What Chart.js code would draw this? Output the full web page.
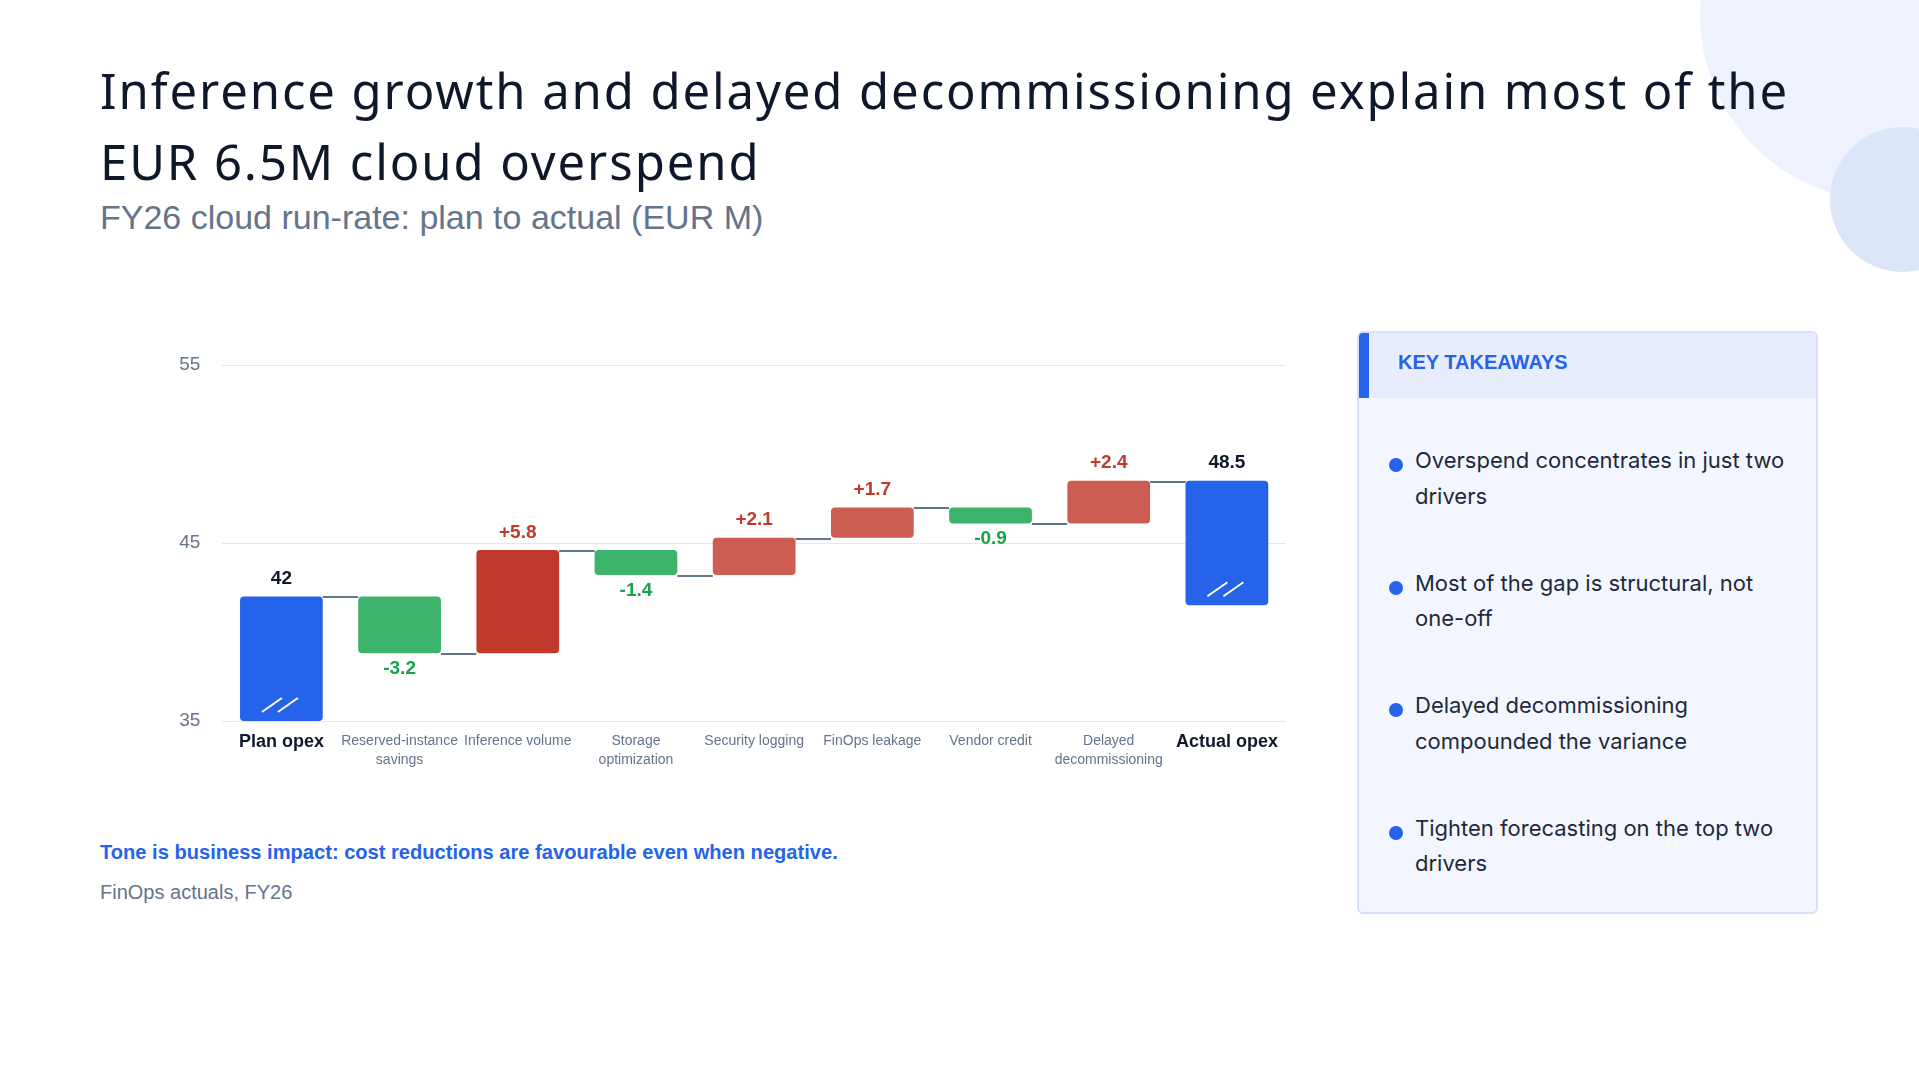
<!DOCTYPE html>
<html>
<head>
<meta charset="utf-8">
<script src="https://cdn.jsdelivr.net/npm/chart.js@4.4.1/dist/chart.umd.min.js"></script>
<style>
  html, body { margin: 0; padding: 0; }
  body {
    width: 1919px; height: 1080px; position: relative; overflow: hidden;
    background: #fff; font-family: "Liberation Sans", Arial, sans-serif;
  }
  .blob-big { position: absolute; left: 1700px; top: -171px; width: 372px; height: 372px; border-radius: 50%; background: #edf2fd; }
  .blob-small { position: absolute; left: 1830px; top: 127px; width: 145px; height: 145px; border-radius: 50%; background: #dce6f9; }
  .title {
    position: absolute; left: 100px; top: 55px; margin: 0;
    font-family: "Noto Sans", sans-serif; font-weight: 400; font-size: 49px; line-height: 70.7px;
    color: #0f172a; white-space: nowrap;
  }
  .title span { display: inline-block; }
  .subtitle { position: absolute; left: 100px; top: 198px; font-size: 34px; color: #64748b; white-space: nowrap; }
  .chart-box { position: absolute; left: 100px; top: 325px; width: 1186px; height: 456px; }
  .note { position: absolute; left: 100px; top: 841px; font-size: 20.1px; font-weight: bold; color: #2563eb; white-space: nowrap; }
  .source { position: absolute; left: 100px; top: 881px; font-size: 20px; color: #64748b; white-space: nowrap; }
  .panel {
    position: absolute; left: 1357px; top: 331px; width: 461px; height: 583px; box-sizing: border-box;
    border: 2px solid #d6e0f8; border-radius: 6px; background: #f3f6fe; overflow: hidden;
  }
  .panel-head {
    position: absolute; left: -2px; top: -2px; right: -2px; height: 67px; box-sizing: border-box;
    border-left: 12px solid #2563eb; background: #e7edfc; padding-left: 29px;
    font-size: 20px; font-weight: bold; line-height: 63px; color: #2563eb;
  }
  .takeaways { position: absolute; left: 56px; top: 110px; margin: 0; padding: 0; list-style: none; }
  .takeaways li {
    position: relative; height: 122.6px; white-space: nowrap;
    font-family: Inter, sans-serif; font-size: 22px; line-height: 35.5px; color: #1e293b;
  }
  .takeaways li::before {
    content: ""; position: absolute; left: -26px; top: 15px; width: 14px; height: 14px;
    border-radius: 50%; background: #2563eb;
  }
</style>
</head>
<body>
<div class="blob-big"></div>
<div class="blob-small"></div>

<h1 class="title"><span id="titleLine1">Inference growth and delayed decommissioning explain most of the</span><br><span>EUR 6.5M cloud overspend</span></h1>
<div class="subtitle">FY26 cloud run-rate: plan to actual (EUR M)</div>

<div class="chart-box"><canvas id="waterfall"></canvas></div>

<div class="note">Tone is business impact: cost reductions are favourable even when negative.</div>
<div class="source">FinOps actuals, FY26</div>

<div class="panel">
  <div class="panel-head">KEY TAKEAWAYS</div>
  <ul class="takeaways">
    <li>Overspend concentrates in just two<br>drivers</li>
    <li>Most of the gap is structural, not<br>one-off</li>
    <li>Delayed decommissioning<br>compounded the variance</li>
    <li>Tighten forecasting on the top two<br>drivers</li>
  </ul>
</div>

<script>
const categories = ['Plan opex', 'Reserved-instance savings', 'Inference volume', 'Storage optimization',
  'Security logging', 'FinOps leakage', 'Vendor credit', 'Delayed decommissioning', 'Actual opex'];
const tickLabels = [['Plan opex'], ['Reserved-instance', 'savings'], ['Inference volume'], ['Storage', 'optimization'],
  ['Security logging'], ['FinOps leakage'], ['Vendor credit'], ['Delayed', 'decommissioning'], ['Actual opex']];
const planOpex = 42;
const actualOpex = 48.5;
const deltas = [-3.2, 5.8, -1.4, 2.1, 1.7, -0.9, 2.4];
// the two totals are drawn as broken stubs; their bottoms
const stubBottoms = [35, 41.5];
const yTicks = [35, 45, 55];

const BLUE = '#2563eb';
const GREEN = '#3db36c';
const RED = '#cd5c52';
const RED_DARK = '#c0392b';
const INK = '#0f172a';
const SLATE = '#64748b';

// floating ranges for the waterfall + the level after each step
const ranges = [[stubBottoms[0], planOpex]];
const levels = [planOpex];
let run = planOpex;
deltas.forEach(d => {
  const next = Math.round((run + d) * 10) / 10;
  ranges.push([run, next]);
  levels.push(next);
  run = next;
});
ranges.push([stubBottoms[1], actualOpex]);
levels.push(actualOpex);

const lastIdx = categories.length - 1;
const isTotal = i => i === 0 || i === lastIdx;
const biggest = Math.max(...deltas);
const barColors = categories.map((c, i) => {
  if (isTotal(i)) return BLUE;
  const d = deltas[i - 1];
  if (d < 0) return GREEN;
  return d === biggest ? RED_DARK : RED;
});

function labelText(i) {
  if (i === 0) return String(planOpex);
  if (i === lastIdx) return String(actualOpex);
  const d = deltas[i - 1];
  return (d > 0 ? '+' : '') + d.toFixed(1);
}

const connectors = {
  id: 'connectors',
  beforeDatasetsDraw(chart) {
    const ctx = chart.ctx;
    const bars = chart.getDatasetMeta(0).data;
    const y = chart.scales.y;
    ctx.save();
    ctx.strokeStyle = SLATE;
    ctx.lineWidth = 2;
    for (let i = 0; i < bars.length - 1; i++) {
      const py = Math.round(y.getPixelForValue(levels[i])) + 1;
      ctx.beginPath();
      ctx.moveTo(bars[i].x + bars[i].width / 2, py);
      ctx.lineTo(bars[i + 1].x - bars[i + 1].width / 2, py);
      ctx.stroke();
    }
    ctx.restore();
  }
};

const barLabels = {
  id: 'barLabels',
  afterDatasetsDraw(chart) {
    const ctx = chart.ctx;
    const bars = chart.getDatasetMeta(0).data;
    ctx.save();
    ctx.font = 'bold 19px "Liberation Sans", Arial, sans-serif';
    ctx.textAlign = 'center';
    ctx.textBaseline = 'alphabetic';
    bars.forEach((bar, i) => {
      const top = Math.min(bar.y, bar.base);
      const bottom = Math.max(bar.y, bar.base);
      if (isTotal(i)) {
        ctx.fillStyle = INK;
        ctx.fillText(labelText(i), bar.x, top - 12.5);
        // broken-axis marks
        ctx.strokeStyle = '#ffffff';
        ctx.lineWidth = 2;
        [-19.5, -3.5].forEach(dx => {
          ctx.beginPath();
          ctx.moveTo(bar.x + dx, bottom - 9);
          ctx.lineTo(bar.x + dx + 20, bottom - 23);
          ctx.stroke();
        });
      } else if (deltas[i - 1] > 0) {
        ctx.fillStyle = RED_DARK;
        ctx.fillText(labelText(i), bar.x, top - 12.5);
      } else {
        ctx.fillStyle = '#16a34a';
        ctx.fillText(labelText(i), bar.x, bottom + 21);
      }
    });
    ctx.restore();
  }
};

Chart.defaults.font.family = '"Liberation Sans", Arial, sans-serif';

new Chart(document.getElementById('waterfall'), {
  type: 'bar',
  data: {
    labels: tickLabels,
    datasets: [{
      data: ranges,
      backgroundColor: barColors,
      borderRadius: 4,
      borderSkipped: false,
      categoryPercentage: 1,
      barPercentage: 0.7
    }]
  },
  options: {
    responsive: true,
    maintainAspectRatio: false,
    animation: false,
    layout: { padding: { top: 40, right: 0, bottom: 0, left: 0 } },
    plugins: { legend: { display: false }, tooltip: { enabled: false } },
    scales: {
      x: {
        grid: { display: false },
        border: { display: false },
        afterFit: axis => { axis.height = 60; },
        ticks: {
          autoSkip: false,
          maxRotation: 0,
          padding: 2,
          color: ctx => isTotal(ctx.index) ? INK : SLATE,
          font: ctx => isTotal(ctx.index)
            ? { size: 18, weight: 'bold', lineHeight: 1.2 }
            : { size: 14, lineHeight: 1.4 }
        }
      },
      y: {
        min: 35,
        max: 55,
        afterBuildTicks: axis => { axis.ticks = yTicks.map(v => ({ value: v })); },
        afterFit: axis => { axis.width = 122.3; },
        grid: { color: '#e2e8f0', drawTicks: false },
        border: { display: false },
        ticks: { color: SLATE, padding: 22, font: { size: 19 } }
      }
    }
  },
  plugins: [connectors, barLabels]
});

// stretch the fallback title font to the width of the original first line
(function fitTitle() {
  const line = document.getElementById('titleLine1');
  const w = line.getBoundingClientRect().width;
  const n = line.textContent.length;
  document.querySelector('.title').style.letterSpacing = ((1689 - w) / n) + 'px';
})();
</script>
</body>
</html>
